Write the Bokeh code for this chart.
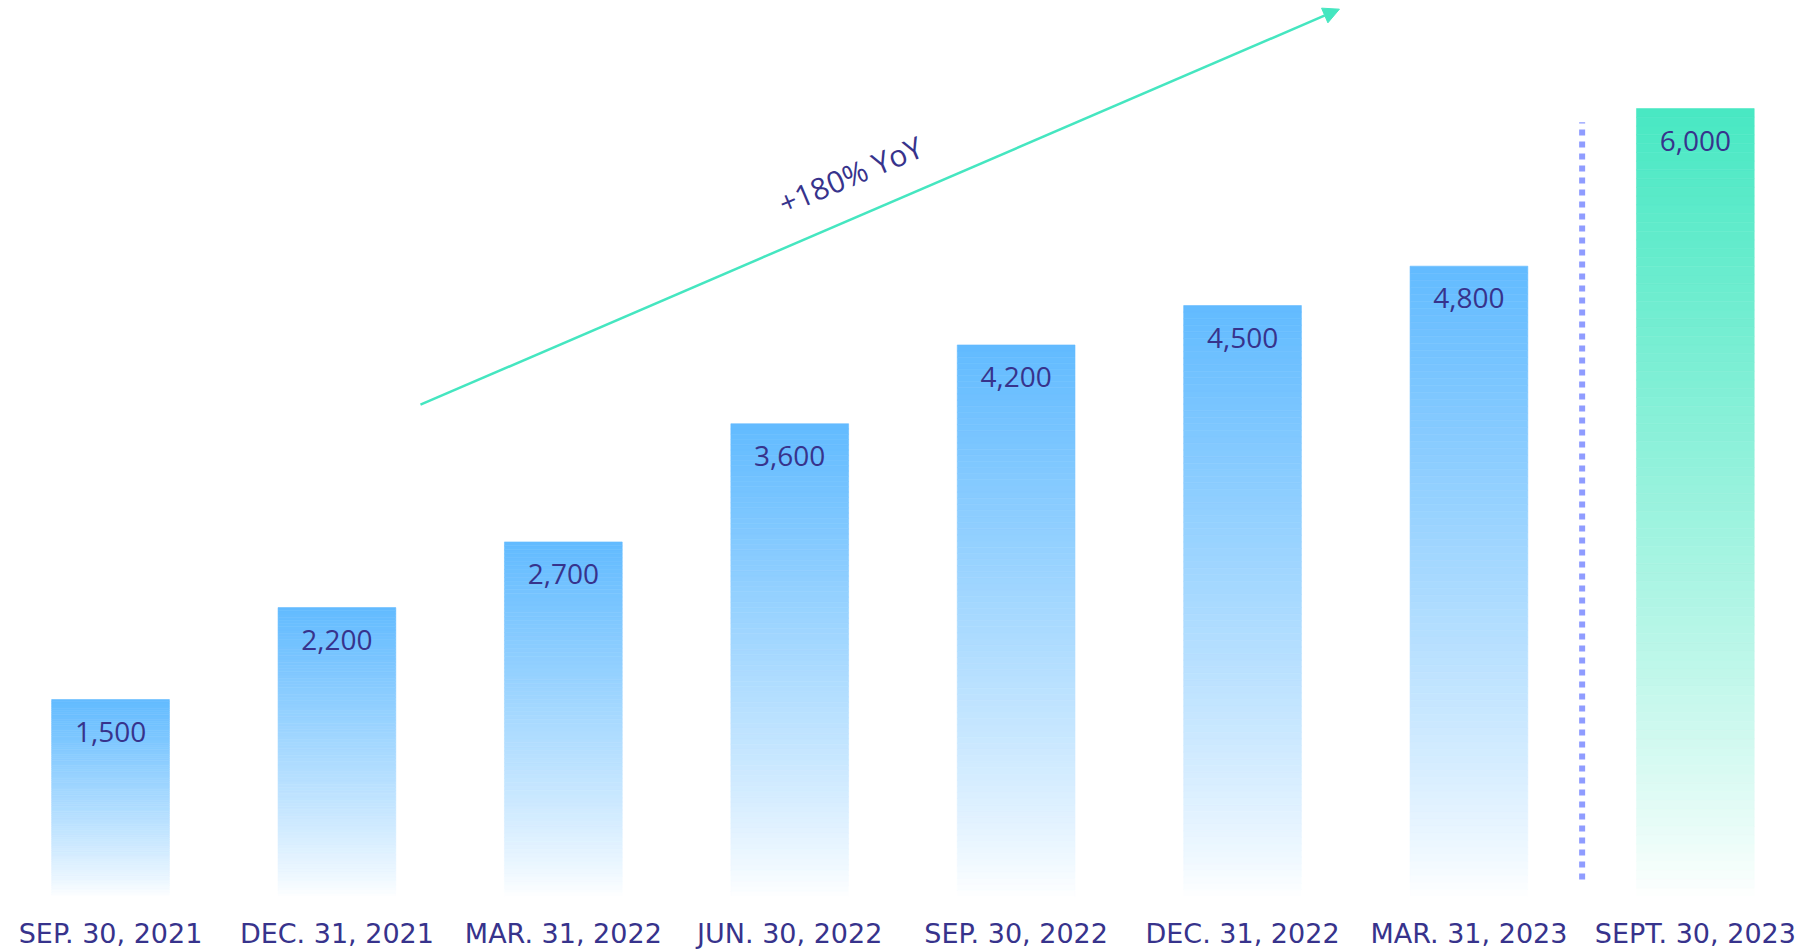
from bokeh.plotting import figure
from bokeh.models import ColumnDataSource, FixedTicker, Arrow, NormalHead
from bokeh.core.properties import value
from bokeh.embed import file_html
from bokeh.resources import INLINE

# ---- data ----
categories = ["SEP. 30, 2021", "DEC. 31, 2021", "MAR. 31, 2022", "JUN. 30, 2022",
              "SEP. 30, 2022", "DEC. 31, 2022", "MAR. 31, 2023", "SEPT. 30, 2023"]
values = [1500, 2200, 2700, 3600, 4200, 4500, 4800, 6000]
value_labels = ["1,500", "2,200", "2,700", "3,600", "4,200", "4,500", "4,800", "6,000"]
annotation_text = "+180% YoY"

# ---- styling ----
BLUE_TOP = (98, 187, 255)
GREEN_TOP = (72, 232, 195)
NAVY = "#37338c"
ARROW_GREEN = "#45e6c0"
DOT_COLOR = "#8f9cff"
BAR_WIDTH = 0.52
N_SLICES = 90

p = figure(width=1818, height=951, output_backend="svg", toolbar_location=None,
           x_range=(-0.486, 7.544), y_range=(0, 6823),
           y_axis_location=None, min_border_left=0, min_border_right=0,
           min_border_top=0, min_border_bottom=55)
p.outline_line_color = None
p.xgrid.visible = False
p.ygrid.visible = False
p.background_fill_color = "white"
p.border_fill_color = "white"

# gradient bars built from slices
lefts, rights, bottoms, tops, colors = [], [], [], [], []
for i, v in enumerate(values):
    top_rgb = GREEN_TOP if i == len(values) - 1 else BLUE_TOP
    for k in range(N_SLICES):
        t = (k + 0.5) / N_SLICES
        f = t ** 0.85
        r, g, b = [int(round(255 + (c - 255) * f)) for c in top_rgb]
        lefts.append(i - BAR_WIDTH / 2)
        rights.append(i + BAR_WIDTH / 2)
        bottoms.append(v * k / N_SLICES)
        tops.append(v * (k + 1) / N_SLICES)
        colors.append("#%02x%02x%02x" % (r, g, b))
src = ColumnDataSource(dict(left=lefts, right=rights, bottom=bottoms, top=tops, color=colors))
p.quad(left="left", right="right", bottom="bottom", top="top", source=src,
       fill_color="color", line_color="color", line_width=0.6)

# value labels
lab = ColumnDataSource(dict(x=list(range(len(values))), y=values, text=value_labels))
p.text(x="x", y="y", text="text", source=lab, text_align="center", text_baseline="middle",
       y_offset=32, text_font=value("Open Sans"), text_font_size="28px", text_color=NAVY)

# dotted separator
sep_x = len(values) - 1.5
p.segment(x0=[sep_x], y0=[130], x1=[sep_x], y1=[5895], line_color=DOT_COLOR,
          line_width=6, line_dash="6 6")

# growth arrow
arrow_start = (1.369, 3745)
arrow_end = (5.428, 6757)
p.add_layout(Arrow(end=NormalHead(size=16, fill_color=ARROW_GREEN, line_color=ARROW_GREEN),
                   x_start=arrow_start[0], y_start=arrow_start[1],
                   x_end=arrow_end[0], y_end=arrow_end[1],
                   line_color=ARROW_GREEN, line_width=2.5))
p.text(x=[3.268], y=[5496], text=[annotation_text], angle=0.40, text_align="center",
       text_baseline="middle", text_font=value("Open Sans"), text_font_size="30px",
       text_color=NAVY)

# x axis
ax = p.xaxis[0]
ax.ticker = FixedTicker(ticks=list(range(len(categories))))
ax.major_label_overrides = {i: c for i, c in enumerate(categories)}
ax.axis_line_color = None
ax.major_tick_line_color = None
ax.minor_tick_line_color = None
ax.major_label_standoff = 15
ax.major_label_text_font = "DejaVu Sans"
ax.major_label_text_font_size = "27px"
ax.major_label_text_color = NAVY

open("out.html", "w").write(file_html(p, INLINE))
